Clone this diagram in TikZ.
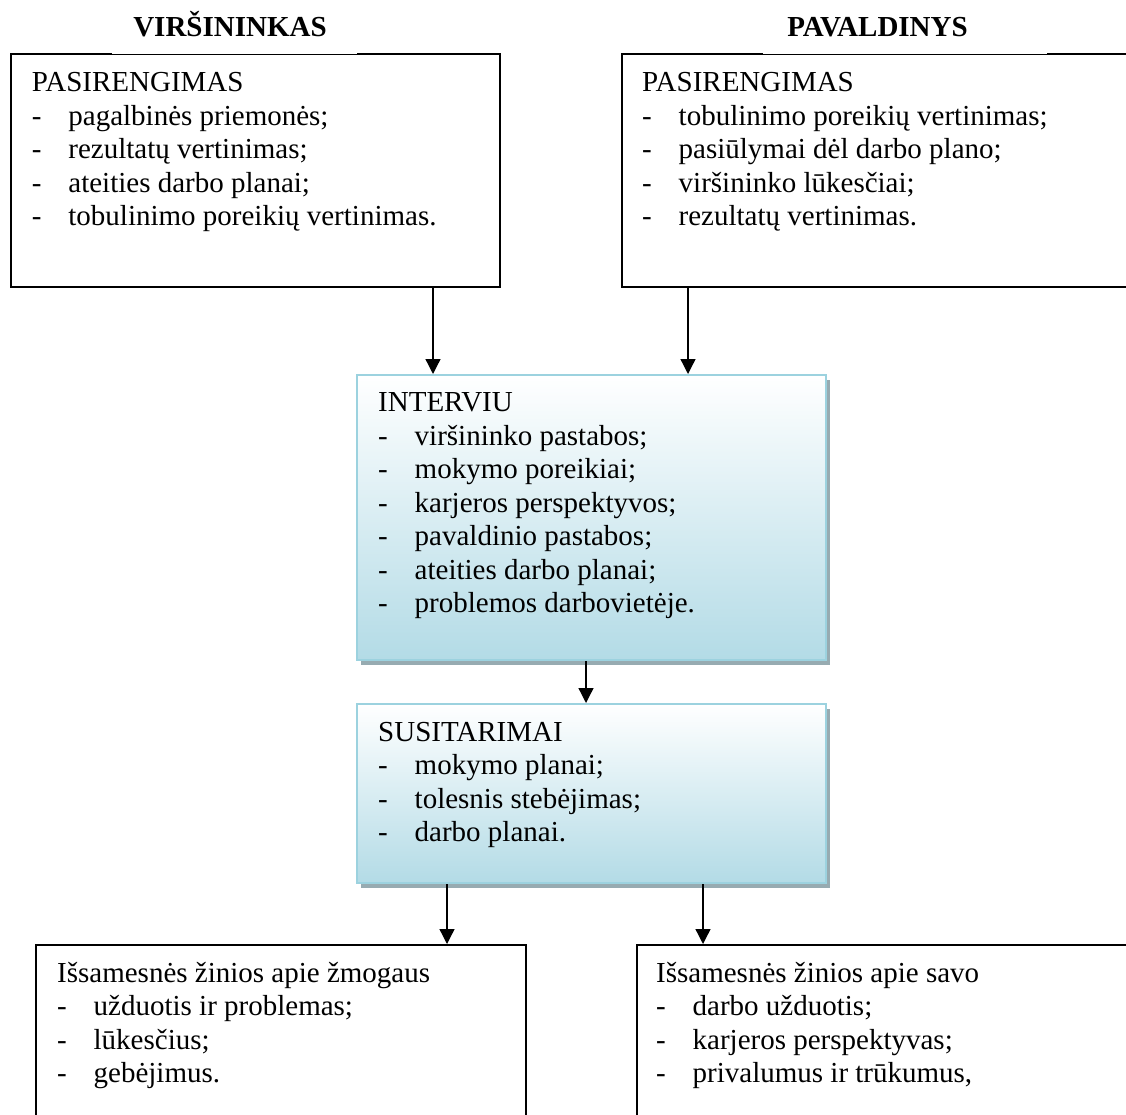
\documentclass[tikz,border=0pt]{standalone}
\usepackage{fontspec}
\setmainfont{Liberation Serif}
\usetikzlibrary{arrows.meta,shadows}
\definecolor{bluebrd}{HTML}{9CD2DF}
\definecolor{bluebot}{HTML}{B3DBE6}
\definecolor{shadowc}{HTML}{97ABB1}
\newcommand{\itm}[1]{\makebox[36.5pt][l]{-}#1}
\newcommand{\blk}[1]{\parbox[t]{460pt}{\raggedright\fontsize{29}{33.5}\selectfont #1}}
\tikzset{
  bbox/.style={draw=black, line width=2pt, fill=white, inner sep=0pt, anchor=north west},
  blbox/.style={draw=bluebrd, line width=2pt, top color=white, bottom color=bluebot,
    inner sep=0pt, anchor=north west,
    drop shadow={shadow xshift=4pt, shadow yshift=-4.5pt, fill=shadowc, opacity=1}},
  txt/.style={inner sep=0pt, anchor=base west},
  hdr/.style={inner sep=0pt, anchor=base, font=\fontsize{29}{33.5}\selectfont\bfseries},
  arr/.style={line width=1.3pt, -{Triangle[length=15pt,width=15pt]}}
}
\begin{document}
\begin{tikzpicture}[x=1pt,y=1pt]
\useasboundingbox (0,0) rectangle (1126,-1115);
\clip (0,0) rectangle (1126,-1115);
% boxes
\node[bbox, minimum width=489pt, minimum height=232.5pt] (tl) at (10,-53.5) {};
\node[bbox, minimum width=530pt, minimum height=232.5pt] (tr) at (621,-53.5) {};
\node[blbox, minimum width=469pt, minimum height=285pt] (int) at (356,-374) {};
\node[blbox, minimum width=469pt, minimum height=179pt] (sus) at (356,-703) {};
\node[bbox, minimum width=490pt, minimum height=260pt] (bl) at (34.5,-944) {};
\node[bbox, minimum width=530pt, minimum height=260pt] (br) at (635.5,-944) {};
% header gaps in the top edges
\fill[white] (112,-40) rectangle (357,-53.6);
\fill[white] (763,-40) rectangle (1047,-53.6);
% headers
\node[hdr] (h1) at (230,-37) {VIRŠININKAS};
\node[hdr] (h2) at (877.5,-37) {PAVALDINYS};
% texts
\node[txt] (tlt) at (31.7,-92) {\blk{PASIRENGIMAS\\
\itm{pagalbinės priemonės;}\\
\itm{rezultatų vertinimas;}\\
\itm{ateities darbo planai;}\\
\itm{tobulinimo poreikių vertinimas.}}};
\node[txt] (trt) at (642,-92) {\blk{PASIRENGIMAS\\
\itm{tobulinimo poreikių vertinimas;}\\
\itm{pasiūlymai dėl darbo plano;}\\
\itm{viršininko lūkesčiai;}\\
\itm{rezultatų vertinimas.}}};
\node[txt] (intt) at (378,-411.7) {\blk{INTERVIU\\
\itm{viršininko pastabos;}\\
\itm{mokymo poreikiai;}\\
\itm{karjeros perspektyvos;}\\
\itm{pavaldinio pastabos;}\\
\itm{ateities darbo planai;}\\
\itm{problemos darbovietėje.}}};
\node[txt] (sust) at (378,-741) {\blk{SUSITARIMAI\\
\itm{mokymo planai;}\\
\itm{tolesnis stebėjimas;}\\
\itm{darbo planai.}}};
\node[txt] (blt) at (57,-982) {\blk{Išsamesnės žinios apie žmogaus\\
\itm{užduotis ir problemas;}\\
\itm{lūkesčius;}\\
\itm{gebėjimus.}}};
\node[txt] (brt) at (656,-982) {\blk{Išsamesnės žinios apie savo\\
\itm{darbo užduotis;}\\
\itm{karjeros perspektyvas;}\\
\itm{privalumus ir trūkumus,}}};
% connector x positions
\coordinate (a1) at (433,0);
\coordinate (a2) at (688,0);
\coordinate (a3) at (586,0);
\coordinate (a4) at (447,0);
\coordinate (a5) at (703,0);
\draw[arr] (tl.south -| a1) -- (int.north -| a1);
\draw[arr] (tr.south -| a2) -- (int.north -| a2);
\draw[arr] (int.south -| a3) -- (sus.north -| a3);
\draw[arr] (sus.south -| a4) -- (bl.north -| a4);
\draw[arr] (sus.south -| a5) -- (br.north -| a5);
\end{tikzpicture}
\end{document}
